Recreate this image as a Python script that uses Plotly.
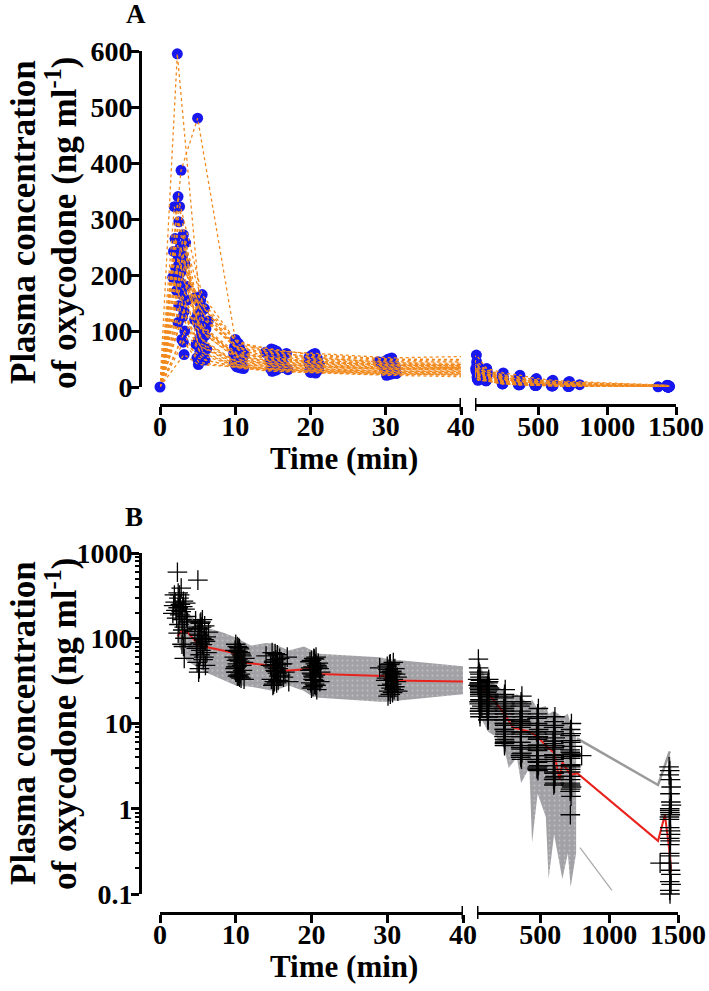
import plotly.graph_objects as go

W, H = 709, 991

# ---- observed data (one list per sampling point, one entry per subject) ----
t_2 = [2.3, 2.8, 2.4, 1.9, 2.6, 2.5, 3.1, 2.0, 3.4, 2.7, 1.8, 3.0, 2.4, 3.3, 2.1,
       2.8, 1.7, 2.6, 3.5, 2.2, 2.9, 3.6, 2.5, 3.2, 3.0, 2.4, 3.3, 2.9, 3.1, 3.2]
c_2 = [595, 387, 340, 322, 322, 295, 272, 265, 258, 250, 242, 235, 228, 220, 212,
       205, 196, 188, 180, 172, 165, 155, 145, 135, 125, 115, 100, 85, 80, 58]
t_5 = [5.3, 5.0, 5.6, 4.7, 5.2, 5.9, 5.1, 5.5, 4.6, 6.1, 5.4, 5.8, 5.0, 5.3, 6.4,
       5.5, 4.8, 6.0, 5.2, 5.6, 6.2, 5.0, 5.4, 5.8, 5.3, 4.9, 5.7, 5.2, 6.0, 5.1]
c_5 = [150, 480, 165, 160, 128, 140, 112, 135, 120, 104, 155, 96, 130, 88, 118,
       100, 76, 92, 108, 84, 68, 80, 72, 60, 64, 52, 56, 44, 48, 40]
t_10 = [10.2, 10.0, 10.5, 9.9, 10.8, 10.3, 10.1, 10.6, 9.8, 11.0, 10.4, 10.2, 10.7, 10.0, 11.2,
        10.5, 10.1, 10.8, 10.3, 9.9, 10.6, 10.2, 10.9, 10.4, 10.0, 10.7, 10.3, 11.1, 10.5, 10.2]
c_10 = [80, 85, 75, 72, 62, 70, 55, 68, 60, 52, 78, 50, 65, 46, 58,
        54, 40, 48, 57, 44, 38, 47, 42, 36, 40, 34, 37, 33, 35, 36]
t_15 = [15.2, 14.0, 15.5, 16.8, 15.0, 15.8, 14.6, 15.3, 16.2, 15.1, 14.8, 15.6, 15.0, 16.5, 15.4,
        14.9, 15.7, 15.2, 16.0, 15.5, 14.7, 15.3, 15.9, 15.1, 16.3, 15.0, 15.6, 14.9, 15.4, 17.0]
c_15 = [66, 62, 64, 60, 52, 58, 48, 56, 50, 45, 68, 44, 54, 40, 49,
        47, 36, 42, 50, 39, 33, 41, 37, 31, 35, 29, 32, 28, 30, 31]
t_20 = [20.3, 20.0, 20.6, 19.8, 20.2, 20.9, 20.1, 20.5, 19.9, 21.2, 20.4, 20.0, 20.7, 20.2, 21.0,
        19.8, 20.4, 20.1, 20.8, 20.3, 19.9, 20.5, 20.2, 20.6, 21.1, 20.0, 20.4, 20.7, 20.2, 20.5]
c_20 = [58, 55, 60, 53, 46, 51, 43, 50, 45, 40, 57, 39, 48, 36, 44,
        42, 32, 38, 46, 35, 30, 37, 33, 28, 31, 26, 29, 25, 27, 28]
t_30 = [30.4, 30.0, 30.8, 29.0, 30.2, 31.0, 30.5, 30.1, 30.7, 31.3, 30.3, 29.9, 30.6, 30.2, 31.1,
        30.4, 30.0, 30.8, 30.3, 31.2, 30.5, 29.8, 30.6, 30.2, 31.0, 30.4, 30.9, 30.1, 30.7, 31.4]
c_30 = [50, 47, 52, 45, 40, 44, 38, 43, 39, 35, 49, 34, 41, 32, 38,
        36, 28, 33, 40, 31, 26, 32, 29, 24, 27, 22, 25, 21, 23, 24]
t_60 = [55, 60, 50, 62, 58, 45, 60, 65, 55, 60, 52, 60, 58, 70, 60,
        55, 62, 60, 48, 60, 57, 60, 64, 60, 55, 60, 75, 60, 58, 62]
c_60 = [40, 38, 57, 35, 30, 33, 28, 32, 29, 25, 45, 24, 30, 22, 27,
        26, 19, 23, 28, 21, 17, 22, 19, 15, 18, 14, 16, 13, 14, 12]
t_120 = [120, 115, 125, 120, 110, 130, 120, 118, 122, 120, 125, 120, 115, 120, 128,
         120, 112, 120, 124, 120, 118, 120, 126, 120, 115, 120, 122, 120, 118, 120]
c_120 = [30, 28, 33, 27, 23, 26, 21, 25, 22, 19, 31, 18, 24, 17, 21,
         20, 15, 18, 22, 16, 14, 17, 15, 12, 14, 12, 13, 11, 12, 11]
t_240 = [240, 238, 245, 240, 235, 242, 240, 248, 240, 236, 240, 244, 240, 239, 240,
         246, 240, 237, 241, 240, 243, 240, 238, 240, 245, 240, 236, 240, 242, 240]
c_240 = [22, 20, 25, 18, 15, 17, 13, 16, 14, 11, 21, 11, 15, 10, 13,
         12, 8.5, 11, 14, 9.5, 7.5, 10, 8.5, 6.5, 8, 6, 7, 5.5, 6.2, 5.8]
t_360 = [360, 355, 366, 360, 352, 362, 360, 368, 358, 360, 364, 360, 356, 360, 362,
         360, 354, 360, 365, 360, 358, 361, 360, 367, 360, 356, 360, 363, 360, 358]
c_360 = [18, 16, 21, 14, 11, 13, 10, 12, 10.5, 8, 17, 8, 11, 7, 9.5,
         9, 6, 8, 10, 7, 5.2, 7.5, 6, 4.5, 5.5, 4.2, 5, 3.8, 4.4, 4]
t_480 = [480, 476, 486, 480, 472, 482, 480, 488, 478, 480, 484, 480, 476, 480, 482,
         480, 474, 480, 485, 480, 478, 481, 480, 487, 480, 476, 480, 483, 480, 478]
c_480 = [13, 11.5, 15, 10, 8, 9.5, 7, 8.5, 7.5, 5.5, 12, 5.5, 8, 5, 6.8,
         6.5, 4.2, 5.6, 7, 4.8, 3.6, 5.2, 4.2, 3.2, 3.8, 3, 3.5, 2.8, 3.1, 2.9]
t_600 = [600, 596, 606, 600, 592, 602, 600, 608, 598, 600, 604, 600, 596, 600, 602,
         600, 594, 600, 605, 600, 598, 601, 600, 607, 600, 596, 600, 603, 600, 598]
c_600 = [10.5, 9, 12, 8, 6.2, 7.5, 5.5, 6.8, 5.8, 4.2, 9.5, 4.3, 6.2, 3.8, 5.2,
         5, 3.2, 4.3, 5.5, 3.6, 2.7, 4, 3.2, 2.4, 2.9, 2.2, 2.6, 2, 2.3, 1.9]
t_720 = [720, 716, 726, 720, 800, 722, 720, 728, 718, 720, 724, 720, 716, 720, 722,
         720, 714, 720, 725, 720, 718, 721, 720, 727, 720, 716, 720, 723, 720, 718]
c_720 = [8.5, 7.2, 10, 6.3, 4.2, 6, 4.3, 5.4, 4.6, 3.2, 7.6, 3.3, 4.9, 2.9, 4.1,
         3.9, 2.4, 3.3, 4.4, 2.7, 2, 3.1, 2.4, 1.8, 2.2, 1.6, 1.9, 1.4, 1.7, 0.85]
t_1440 = [1440, 1445, 1435, 1450, 1440, 1442, 1438, 1448, 1440, 1445, 1436, 1440, 1452, 1440, 1444,
          1438, 1440, 1446, 1441, 1440, 1370, 1443, 1440, 1448, 1437, 1440, 1445, 1440, 1450, 1442]
c_1440 = [2.8, 2.2, 3.1, 1.8, 1.0, 1.5, 0.8, 1.2, 0.95, 0.55, 2.5, 0.6, 1.1, 0.45, 0.85,
          0.75, 0.3, 0.5, 0.9, 0.38, 0.23, 0.42, 0.28, 0.17, 0.23, 0.14, 0.19, 0.11, 0.13, 0.1]

time_cols = [t_2, t_5, t_10, t_15, t_20, t_30, t_60, t_120, t_240, t_360, t_480, t_600, t_720, t_1440]
conc_cols = [c_2, c_5, c_10, c_15, c_20, c_30, c_60, c_120, c_240, c_360, c_480, c_600, c_720, c_1440]

# ---- VPC (panel B): 90% prediction band, median and outer percentile lines ----
band_l_t = [2.5, 3.5, 5, 6, 8.5, 10, 12, 14, 15, 17, 19, 20, 21, 29, 30, 40]
band_l_hi = [300, 210, 150, 135, 115, 102, 82, 88, 86, 72, 80, 72, 66, 60, 57, 47]
band_l_lo = [80, 55, 45, 40, 32, 28, 27, 25, 24, 28, 24, 21, 20, 18, 18, 22]
band_r_t = [40, 60, 90, 120, 180, 240, 270, 330, 360, 420, 440, 480, 540, 560, 600, 660, 700, 720, 760]
band_r_hi = [47, 50, 38, 34, 28, 24, 20, 22, 20, 17, 19, 15, 16, 13, 14, 12, 13, 10, 7]
band_r_lo = [22, 12, 10, 8, 7, 5, 3, 4, 2, 3, 0.4, 1.5, 0.8, 0.15, 0.5, 0.15, 0.3, 0.12, 0.3]
band_e_t = [1430, 1440, 1452]
band_e_hi = [3.5, 4.7, 3.0]
band_e_lo = [0.2, 0.13, 0.2]

med_t = [2.3, 3.0, 3.6, 5.2, 9.5, 11, 14.5, 15.6, 20.5, 21, 29.5, 30.5, 40,
         60, 120, 160, 240, 300, 360, 420, 480, 540, 600, 640, 660, 720, 770,
         1355, 1405, 1440, 1450]
med_v = [105, 125, 118, 82, 68, 52, 48, 41, 44, 38, 36, 32, 31,
         27, 22, 19, 13, 9, 8.5, 8, 7, 5.5, 4.5, 2.2, 3.5, 2.5, 2.6,
         0.42, 0.85, 0.3, 0.18]
hi_t = [766, 1355, 1440]
hi_v = [6.7, 1.9, 4.7]
lo_t = [788, 1020]
lo_v = [0.35, 0.11]

ORANGE = "#f28a1e"
BLUE = "#1717ee"
FONT = "Liberation Serif"


def fx(p):
    return p / W


def fy(p):
    return 1 - p / H


def subject_paths(tmin):
    xs, ys = [], []
    n = len(c_2)
    for i in range(n):
        pts = [(0.0, 0.0)] + [(tc[i], cc[i]) for tc, cc in zip(time_cols, conc_cols)]
        pts = [p for p in pts if p[0] >= tmin]
        xs += [p[0] for p in pts] + [None]
        ys += [p[1] for p in pts] + [None]
    return xs, ys


def points(lo, hi, with_zero):
    xs, ys = [], []
    if with_zero and lo <= 0:
        xs += [0.0]
        ys += [0.0]
    for tc, cc in zip(time_cols, conc_cols):
        for t, c in zip(tc, cc):
            if lo <= t <= hi:
                xs.append(t)
                ys.append(c)
    return xs, ys


fig = go.Figure()

# ---------------- Panel A ----------------
for xa, lo, hi, tmin in [("x", 0, 40, 0), ("x2", 40, 1500, 30)]:
    mx, my = points(lo, hi, True)
    fig.add_trace(go.Scatter(x=mx, y=my, xaxis=xa, yaxis="y", mode="markers",
                             marker=dict(color=BLUE, size=11), cliponaxis=False,
                             showlegend=False, hoverinfo="skip"))
    lx, ly = subject_paths(tmin)
    fig.add_trace(go.Scatter(x=lx, y=ly, xaxis=xa, yaxis="y", mode="lines",
                             line=dict(color=ORANGE, width=1.3, dash="dot"),
                             connectgaps=False, showlegend=False, hoverinfo="skip"))

# ---------------- Panel B ----------------
patt = dict(shape=".", fgcolor="#dcdcdc", bgcolor="#a2a2a6", size=5, solidity=0.12)
for xa, bt, bh, bl in [("x3", band_l_t, band_l_hi, band_l_lo),
                       ("x4", band_r_t, band_r_hi, band_r_lo),
                       ("x4", band_e_t, band_e_hi, band_e_lo)]:
    fig.add_trace(go.Scatter(x=bt + bt[::-1], y=bh + bl[::-1], xaxis=xa, yaxis="y3",
                             mode="lines", line=dict(width=0, color="#a2a2a6"),
                             fill="toself", fillcolor="#a2a2a6", fillpattern=patt,
                             showlegend=False, hoverinfo="skip"))

for xa in ["x3", "x4"]:
    fig.add_trace(go.Scatter(x=med_t, y=med_v, xaxis=xa, yaxis="y3", mode="lines",
                             line=dict(color="#e8221c", width=2),
                             showlegend=False, hoverinfo="skip"))
fig.add_trace(go.Scatter(x=hi_t, y=hi_v, xaxis="x4", yaxis="y3", mode="lines",
                         line=dict(color="#9a9a9a", width=2.5), showlegend=False, hoverinfo="skip"))
fig.add_trace(go.Scatter(x=lo_t, y=lo_v, xaxis="x4", yaxis="y3", mode="lines",
                         line=dict(color="#a8a8a8", width=1.2), showlegend=False, hoverinfo="skip"))

for xa, lo, hi in [("x3", 0.5, 40), ("x4", 40, 1500)]:
    mx, my = points(lo, hi, False)
    fig.add_trace(go.Scatter(x=mx, y=my, xaxis=xa, yaxis="y3", mode="markers",
                             marker=dict(symbol="cross-thin", size=14, color="black",
                                         line=dict(color="black", width=1.3)),
                             cliponaxis=False, showlegend=False, hoverinfo="skip"))

# ---------------- axes ----------------
tickfont = dict(family=FONT, size=28, color="black", weight="bold")
ax_common = dict(showline=True, linewidth=3, linecolor="black", ticks="outside",
                 ticklen=8, tickwidth=3, tickcolor="black", showgrid=False,
                 zeroline=False, tickfont=tickfont, fixedrange=True, automargin=False)
xs_off = dict(ticklabelstandoff=-13)
ys_off = dict(ticklabelstandoff=-7)

fig.update_layout(
    width=W, height=H, margin=dict(l=0, r=0, t=0, b=0, autoexpand=False),
    paper_bgcolor="white", plot_bgcolor="white", showlegend=False,
    xaxis=dict(domain=[fx(160), fx(461)], range=[0, 40], anchor="free", position=fy(405),
               tickvals=[0, 10, 20, 30, 40], **xs_off, **ax_common),
    xaxis2=dict(domain=[fx(475), fx(676)], range=[40, 1500], anchor="free", position=fy(405),
                tickvals=[500, 1000, 1500], **xs_off, **ax_common),
    yaxis=dict(domain=[fy(387), fy(51)], range=[0, 600], anchor="free", position=fx(140),
               tickvals=[0, 100, 200, 300, 400, 500, 600], **ys_off, **ax_common),
    xaxis3=dict(domain=[fx(160), fx(463)], range=[0, 40], anchor="free", position=fy(913),
                tickvals=[0, 10, 20, 30, 40], **xs_off, **ax_common),
    xaxis4=dict(domain=[fx(477), fx(678)], range=[40, 1500], anchor="free", position=fy(913),
                tickvals=[500, 1000, 1500], **xs_off, **ax_common),
    yaxis3=dict(domain=[fy(894), fy(553)], type="log", range=[-1, 3], anchor="free",
                position=fx(140), tickvals=[0.1, 1, 10, 100, 1000],
                ticktext=["0.1", "1", "10", "100", "1000"],
                minor=dict(ticks="outside", ticklen=4, tickwidth=2, tickcolor="black",
                           tickmode="array",
                           tickvals=[0.2, 0.3, 0.4, 0.5, 0.6, 0.7, 0.8, 0.9,
                                     2, 3, 4, 5, 6, 7, 8, 9,
                                     20, 30, 40, 50, 60, 70, 80, 90,
                                     200, 300, 400, 500, 600, 700, 800, 900]),
                **ys_off, **ax_common),
)

# break caps on the split x axes
shapes = []
for xa, xv, pos in [("x", 40, 405), ("x2", 40, 405), ("x3", 40, 913), ("x4", 40, 913)]:
    shapes.append(dict(type="line", xref=xa, yref="paper", x0=xv, x1=xv,
                       y0=fy(pos + 6), y1=fy(pos - 7), line=dict(color="black", width=3)))
fig.update_layout(shapes=shapes)

line1 = "<b>Plasma concentration</b>"
line2 = "<b>of oxycodone (ng ml<sup>-1</sup>)</b>"
annots = [
    dict(text="<b>A</b>", x=fx(136), y=fy(14), size=27),
    dict(text="<b>B</b>", x=fx(134), y=fy(517), size=27),
    dict(text="<b>Time (min)</b>", x=fx(344), y=fy(458), size=31),
    dict(text="<b>Time (min)</b>", x=fx(344), y=fy(966), size=31),
    dict(text=line1, x=fx(23), y=fy(222), size=35, angle=-90),
    dict(text=line2, x=fx(61), y=fy(223), size=35, angle=-90),
    dict(text=line1, x=fx(23), y=fy(723), size=35, angle=-90),
    dict(text=line2, x=fx(61), y=fy(724), size=35, angle=-90),
]
for a in annots:
    fig.add_annotation(text=a["text"], x=a["x"], y=a["y"], xref="paper", yref="paper",
                       xanchor="center", yanchor="middle", showarrow=False,
                       textangle=a.get("angle", 0),
                       font=dict(family=FONT, size=a["size"], color="black"))

fig.write_html("out.html", config={"displayModeBar": False},
               post_script="document.body.style.margin='0px';"
                           "document.body.style.overflow='hidden';")
